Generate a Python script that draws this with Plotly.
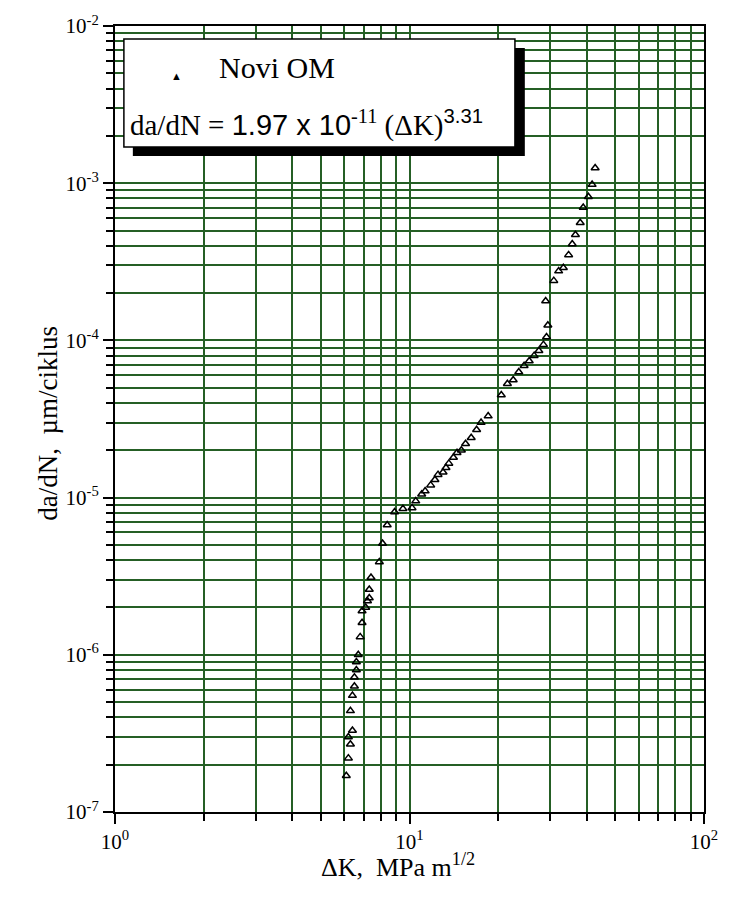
import plotly.graph_objects as go

# Crack growth data
dK = [6.1, 6.2, 6.3, 6.2, 6.4, 6.3, 6.4, 6.5, 6.5, 6.6, 6.6, 6.7,
      6.8, 6.9, 6.9, 7.1, 7.2, 7.3, 7.3, 7.4, 7.9, 8.1, 8.4, 8.9,
      9.5, 10.2, 10.5, 11.0, 11.3, 11.8, 12.2, 12.5, 13.0, 13.3, 13.6,
      14.1, 14.5, 15.0, 15.5, 16.2, 16.9, 17.5, 18.5, 20.5, 21.5, 22.5,
      23.5, 24.5, 25.5, 26.5, 27.5, 28.5, 29.2, 29.5, 29.0, 30.9, 32.1,
      33.3, 34.7, 35.7, 36.6, 38.0, 38.9, 40.5, 41.7, 42.7]
dadN = [1.7e-7, 2.2e-7, 2.7e-7, 3.0e-7, 3.3e-7, 4.4e-7, 5.5e-7, 6.3e-7, 7.2e-7, 8.0e-7, 9.0e-7, 1.0e-6,
        1.3e-6, 1.6e-6, 1.9e-6, 2.0e-6, 2.2e-6, 2.3e-6, 2.6e-6, 3.1e-6, 3.9e-6, 5.1e-6, 6.7e-6, 8.1e-6,
        8.5e-6, 8.6e-6, 9.5e-6, 1.05e-5, 1.1e-5, 1.2e-5, 1.3e-5, 1.4e-5, 1.45e-5, 1.55e-5, 1.65e-5,
        1.8e-5, 1.93e-5, 2.0e-5, 2.2e-5, 2.4e-5, 2.7e-5, 3.0e-5, 3.3e-5, 4.5e-5, 5.3e-5, 5.6e-5,
        6.3e-5, 6.9e-5, 7.4e-5, 8.0e-5, 8.6e-5, 9.4e-5, 1.05e-4, 1.25e-4, 1.78e-4, 2.4e-4, 2.76e-4,
        2.9e-4, 3.5e-4, 4.1e-4, 4.7e-4, 5.6e-4, 7.0e-4, 8.2e-4, 9.8e-4, 1.25e-3]

x_ticks = [1, 10, 100]
x_ticktext = ["10<sup>0</sup>", "10<sup>1</sup>", "10<sup>2</sup>"]
y_ticks = [1e-7, 1e-6, 1e-5, 1e-4, 1e-3, 1e-2]
y_ticktext = ["10<sup>-7</sup>", "10<sup>-6</sup>", "10<sup>-5</sup>",
              "10<sup>-4</sup>", "10<sup>-3</sup>", "10<sup>-2</sup>"]

SERIF = "Liberation Serif"
SANS = "Liberation Sans"
GRID = "#255f25"

x_minor = [m * 10**e for e in range(0, 2) for m in range(2, 10)]
y_minor = [m * 10.0**e for e in range(-7, -2) for m in range(2, 10)]

fig = go.Figure()
fig.add_trace(go.Scatter(
    x=dK, y=dadN, mode="markers",
    marker=dict(symbol="triangle-up-open", size=7, color="black", line=dict(width=1.5)),
    showlegend=False))

axis_common = dict(
    type="log", showline=True, linecolor="black", linewidth=2, mirror=True,
    showgrid=True, gridcolor=GRID, gridwidth=2,
    ticks="outside", ticklen=10, tickwidth=1.5, tickcolor="black",
    tickfont=dict(family=SERIF, size=21, color="black"),
    zeroline=False,
)

fig.update_xaxes(
    range=[-0.0001, 2.0001], tickvals=x_ticks, ticktext=x_ticktext,
    minor=dict(tickvals=x_minor, ticks="outside", ticklen=7, tickcolor="black",
               showgrid=True, gridcolor=GRID, gridwidth=2),
    **axis_common)
fig.update_yaxes(
    range=[-7.0001, -1.9999], tickvals=y_ticks, ticktext=y_ticktext,
    minor=dict(tickvals=y_minor, ticks="outside", ticklen=7, tickcolor="black",
               showgrid=True, gridcolor=GRID, gridwidth=2),
    **axis_common)

# legend box with drop shadow
fig.add_shape(type="rect", xref="paper", yref="paper",
              x0=0.0303, x1=0.6958, y0=0.8346, y1=0.972,
              fillcolor="black", line=dict(width=0), layer="above")
fig.add_shape(type="rect", xref="paper", yref="paper",
              x0=0.0151, x1=0.679, y0=0.846, y1=0.9836,
              fillcolor="white", line=dict(color="black", width=1.5), layer="above")

fig.add_annotation(xref="paper", yref="paper", x=0.0924, y=0.947,
                   text="\u25B2", showarrow=False,
                   font=dict(family=SERIF, size=11, color="black"))
fig.add_annotation(xref="paper", yref="paper", x=0.173, y=0.947,
                   xanchor="left", yanchor="middle", text="Novi OM", showarrow=False,
                   font=dict(family=SERIF, size=30, color="black"))
fig.add_annotation(
    xref="paper", yref="paper", x=0.0215, y=0.876, xanchor="left", yanchor="middle",
    text="da/dN = <span style='font-family:" + SANS + "'>1.97 x 10</span>"
         "<sup>-11</sup> (\u0394K)"
         "<sup><span style='font-family:" + SANS + "'>3.31</span></sup>",
    showarrow=False, font=dict(family=SERIF, size=29, color="black"))

# axis titles
fig.add_annotation(xref="paper", yref="paper", x=0.48, y=-0.092,
                   text="\u0394K,  MPa m<sup>1/2</sup>", showarrow=False,
                   font=dict(family=SERIF, size=26, color="black"))
fig.add_annotation(xref="paper", yref="paper", x=-0.143, y=0.495, textangle=-90,
                   text="da/dN,  \u00b5m/ciklus", showarrow=False,
                   font=dict(family=SERIF, size=27, color="black"))

fig.update_layout(
    width=730, height=917,
    margin=dict(l=115, r=20, t=20, b=105),
    plot_bgcolor="white", paper_bgcolor="white",
)

# drop the page's default 8px body margin so the figure fills the window
fig.write_html("out.html", config={"displayModeBar": False},
               post_script="document.body.style.margin='0';document.body.style.overflow='hidden';")
